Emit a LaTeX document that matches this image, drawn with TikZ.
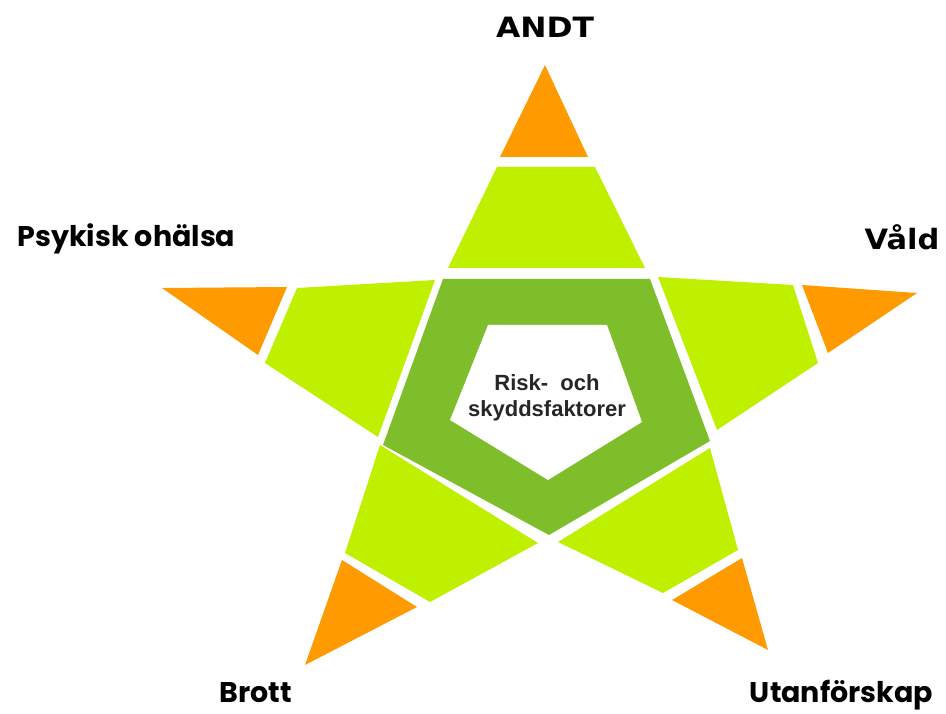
\documentclass[tikz,border=0pt]{standalone}
\usepackage{fontspec}
\setmainfont{Liberation Sans}
\newfontfamily\popfont{Poppins}
\newfontfamily\djfont{DejaVu Sans}
\definecolor{orng}{HTML}{FF9A00}
\definecolor{lgreen}{HTML}{BEF000}
\definecolor{dgreen}{HTML}{7DBE2A}
\tikzset{
  tip/.style={fill=orng},
  band/.style={fill=lgreen},
  core/.style={fill=dgreen},
  hole/.style={fill=white},
  geolabel/.style={inner sep=0pt, anchor=base, font=\popfont\bfseries\fontsize{28.5}{30}\selectfont},
  boldlabel/.style={inner sep=0pt, anchor=base, font=\djfont\bfseries\fontsize{28}{30}\selectfont},
  centertext/.style={inner sep=0pt, align=center, font=\bfseries\fontsize{22}{26}\selectfont, text=black!85}
}
\begin{document}
\begin{tikzpicture}[x=1pt,y=-1pt]
\useasboundingbox (0,0) rectangle (946,714);
% ANDT arm
\fill[tip] (545,65) -- (588,157) -- (500,157) -- cycle;
\fill[band] (497,167) -- (595,167) -- (645,268) -- (448,268) -- cycle;
% Vald arm
\fill[tip] (802,285) -- (917,293) -- (828,353) -- cycle;
\fill[band] (658,277) -- (793,285) -- (818,363) -- (717,430) -- cycle;
% Utanforskap arm
\fill[band] (710,448) -- (738,550) -- (663,593) -- (558,542) -- cycle;
\fill[tip] (742,558) -- (768,650) -- (672,600) -- cycle;
% Brott arm
\fill[band] (380,445) -- (538,543) -- (430,602) -- (345,553) -- cycle;
\fill[tip] (342,560) -- (417,607) -- (305,665) -- cycle;
% Psykisk arm
\fill[tip] (162,288) -- (287,287) -- (258,355) -- cycle;
\fill[band] (297,288) -- (435,280) -- (378,437) -- (265,363) -- cycle;
% core pentagon
\fill[core] (443,279) -- (650,279) -- (710,441) -- (549,535) -- (383,445) -- cycle;
\fill[hole] (488,325) -- (607,325) -- (642,422) -- (548,480) -- (450,420) -- cycle;
% texts
\node[centertext] (risk) at (547,398) {Risk-\ \ och\\skyddsfaktorer};
\node[boldlabel] (andt) at (545,38) {\scalebox{1.12}[1]{ANDT}};
\node[boldlabel] (vald) at (902,250) {\scalebox{1.09}[1]{Våld}};
\node[geolabel] (psyk) at (126.5,247) {Psykisk ohälsa};
\node[geolabel] (brott) at (256,702) {Brott};
\node[geolabel] (utan) at (841.5,702) {Utanförskap};
\end{tikzpicture}
\end{document}
